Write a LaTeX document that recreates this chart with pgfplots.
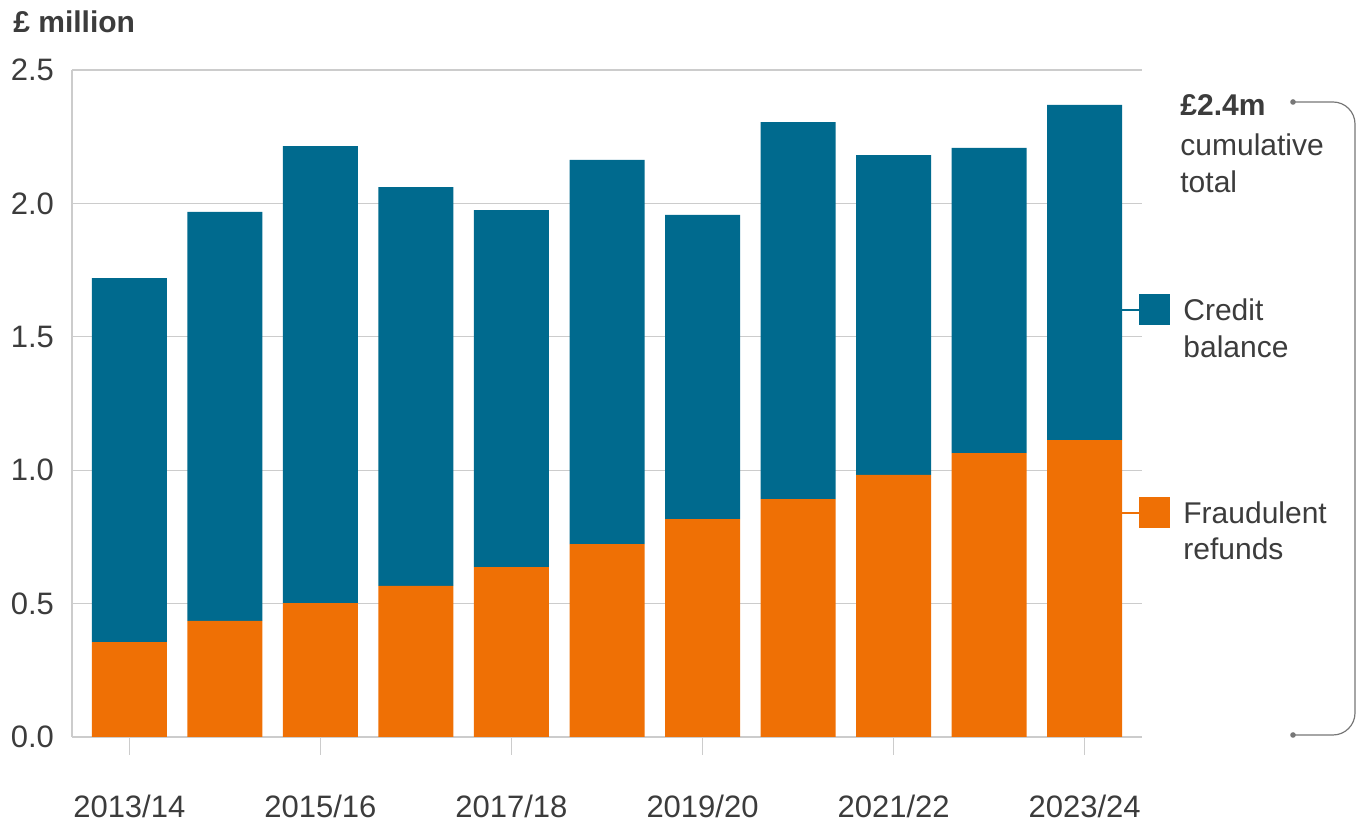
\documentclass[border=0pt]{standalone}
\usepackage{pgfplots}
\pgfplotsset{compat=1.18}
\usepackage{fontspec}
\setmainfont{Liberation Sans}
\definecolor{cblue}{HTML}{006A8E}
\definecolor{corange}{HTML}{EF7005}
\definecolor{txt}{HTML}{3C3C3C}
\definecolor{gridc}{HTML}{CCCCCC}
\definecolor{brk}{HTML}{777777}
\begin{document}
\begin{tikzpicture}[font=\fontsize{15pt}{18pt}\selectfont]
\useasboundingbox (-36pt,-43pt) rectangle (645pt,368.5pt);
\begin{axis}[
  at={(0,0)}, anchor=south west,
  scale only axis, width=535pt, height=333.5pt,
  xmin=-0.6, xmax=10.6, ymin=0, ymax=2.5,
  ybar stacked, bar width=37.5pt,
  axis x line=bottom, axis y line=left,
  axis line style={gridc, line width=0.8pt, -},
  xtick={0,2,4,6,8,10},
  xticklabels={2013/14,2015/16,2017/18,2019/20,2021/22,2023/24},
  xtick align=outside,
  x tick style={gridc, line width=0.8pt},
  major tick length=9pt,
  ytick={0,0.5,1,1.5,2,2.5},
  y tick style={draw=none},
  ymajorgrids, grid style={gridc, line width=0.6pt},
  yticklabel style={/pgf/number format/fixed, /pgf/number format/fixed zerofill, /pgf/number format/precision=1, text=txt, xshift=-1pt},
  xticklabel style={text=txt, yshift=-16.5pt},
  /pgf/number format/assume math mode=true,
  tick label style={font=\fontsize{15.5pt}{18pt}\selectfont},
  clip=false,
]
\addplot[fill=corange, draw=none] coordinates {
(0,0.356) (1,0.435) (2,0.502) (3,0.566) (4,0.637) (5,0.723) (6,0.817) (7,0.892) (8,0.982) (9,1.064) (10,1.113)};
\addplot[fill=cblue, draw=none] coordinates {
(0,1.364) (1,1.533) (2,1.713) (3,1.495) (4,1.338) (5,1.440) (6,1.140) (7,1.413) (8,1.199) (9,1.144) (10,1.256)};
\end{axis}
% y unit label
\node[anchor=base west, text=txt, inner sep=0pt, font=\fontsize{15pt}{18pt}\selectfont\bfseries] at (-29.5pt,352pt) {£ million};
% legend
\draw[cblue, line width=0.8pt] (525pt,213.5pt) -- (534pt,213.5pt);
\fill[cblue] (533.5pt,206pt) rectangle (549pt,221.5pt);
\node[anchor=base west, text=txt, inner sep=0pt] at (555.5pt,208pt) {Credit};
\node[anchor=base west, text=txt, inner sep=0pt] at (555.5pt,189.5pt) {balance};
\draw[corange, line width=0.8pt] (525pt,112pt) -- (534pt,112pt);
\fill[corange] (533.5pt,104.5pt) rectangle (549pt,120pt);
\node[anchor=base west, text=txt, inner sep=0pt] at (555.5pt,106.5pt) {Fraudulent};
\node[anchor=base west, text=txt, inner sep=0pt] at (555.5pt,88.5pt) {refunds};
% bracket annotation
\node[anchor=base west, text=txt, inner sep=0pt, font=\fontsize{15pt}{18pt}\selectfont\bfseries] at (554pt,310.5pt) {£2.4m};
\node[anchor=base west, text=txt, inner sep=0pt] at (554pt,290.5pt) {cumulative};
\node[anchor=base west, text=txt, inner sep=0pt] at (554pt,272pt) {total};
\draw[brk, line width=0.6pt, rounded corners=11pt] (610.5pt,317.5pt) -- (641.5pt,317.5pt) -- (641.5pt,1pt) -- (610.5pt,1pt);
\fill[brk] (610.5pt,317.5pt) circle (1.4pt);
\fill[brk] (610.5pt,1pt) circle (1.4pt);
\end{tikzpicture}
\end{document}
